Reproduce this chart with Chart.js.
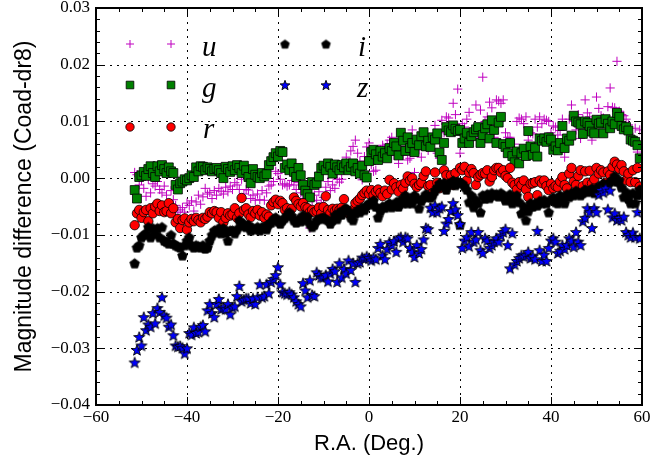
<!DOCTYPE html>
<html><head><meta charset="utf-8">
<script src="https://cdn.jsdelivr.net/npm/chart.js@4.4.1/dist/chart.umd.min.js"></script>
<style>html,body{margin:0;padding:0;background:#fff;}canvas{display:block;}</style>
</head><body>
<canvas id="c" width="671" height="459"></canvas>
<script>
// R.A. (deg) of the sample points
const raDeg = [
-51.5,-51,-50.5,-50,-49.5,-49,-48.5,-48,-47.5,-47,
-46.5,-46,-45.5,-45,-44.5,-44,-43.5,-43,-42.5,-42,
-41.5,-41,-40.5,-40,-39.5,-39,-38.5,-38,-37.5,-37,
-36.5,-36,-35.5,-35,-34.5,-34,-33.5,-33,-32.5,-32,
-31.5,-31,-30.5,-30,-29.5,-29,-28.5,-28,-27.5,-27,
-26.5,-26,-25.5,-25,-24.5,-24,-23.5,-23,-22.5,-22,
-21.5,-21,-20.5,-20,-19.5,-19,-18.5,-18,-17.5,-17,
-16.5,-16,-15.5,-15,-14.5,-14,-13.5,-13,-12.5,-12,
-11.5,-11,-10.5,-10,-9.5,-9,-8.5,-8,-7.5,-7,
-6.5,-6,-5.5,-5,-4.5,-4,-3.5,-3,-2.5,-2,
-1.5,-1,-0.5,0,0.5,1,1.5,2,2.5,3,
3.5,4,4.5,5,5.5,6,6.5,7,7.5,8,
8.5,9,9.5,10,10.5,11,11.5,12,12.5,13,
13.5,14,14.5,15,15.5,16,16.5,17,17.5,18,
18.5,19,19.5,20,20.5,21,21.5,22,22.5,23,
23.5,24,24.5,25,25.5,26,26.5,27,27.5,28,
28.5,29,29.5,30,30.5,31,31.5,32,32.5,33,
33.5,34,34.5,35,35.5,36,36.5,37,37.5,38,
38.5,39,39.5,40,40.5,41,41.5,42,42.5,43,
43.5,44,44.5,45,45.5,46,46.5,47,47.5,48,
48.5,49,49.5,50,50.5,51,51.5,52,52.5,53,
53.5,54,54.5,55,55.5,56,56.5,57,57.5,58,
58.5,59,59.5];

const uDiff = [
0.0010,0.0006,-0.0012,-0.0004,-0.0018,-0.0032,-0.0002,-0.0026,-0.0010,-0.0014,
-0.0006,-0.0020,-0.0026,-0.0014,-0.0030,-0.0044,-0.0022,-0.0038,-0.0048,-0.0060,
-0.0056,-0.0052,-0.0060,-0.0044,-0.0048,-0.0040,-0.0058,-0.0042,-0.0030,-0.0046,
-0.0033,-0.0018,-0.0028,-0.0025,-0.0036,-0.0022,-0.0030,-0.0018,-0.0023,-0.0028,
-0.0016,-0.0024,-0.0014,-0.0020,-0.0008,-0.0012,-0.0020,-0.0002,-0.0028,-0.0020,
-0.0021,-0.0036,-0.0030,-0.0039,-0.0028,-0.0038,-0.0022,-0.0039,-0.0026,-0.0014,
-0.0012,-0.0006,0.0012,0.0008,-0.0002,-0.0012,-0.0010,-0.0014,-0.0012,-0.0004,
-0.0012,-0.0020,-0.0008,-0.0026,-0.0036,-0.0024,-0.0050,-0.0088,-0.0040,-0.0030,
-0.0039,-0.0024,-0.0044,-0.0034,-0.0016,-0.0006,-0.0022,-0.0012,-0.0018,-0.0002,
-0.0007,-0.0002,0.0018,0.0037,0.0026,0.0048,0.0056,0.0067,0.0044,0.0030,
-0.0003,0.0038,0.0055,0.0062,0.0024,0.0012,0.0014,0.0032,0.0050,0.0058,
0.0052,0.0060,0.0067,0.0072,0.0040,0.0048,0.0026,0.0044,0.0040,0.0056,
0.0032,0.0035,0.0085,0.0010,0.0062,0.0050,0.0037,0.0058,0.0066,0.0049,
0.0062,0.0072,0.0093,0.0044,0.0035,0.0102,0.0080,0.0108,0.0106,0.0092,
0.0132,0.0112,0.0157,0.0044,0.0096,0.0090,0.0104,0.0116,0.0080,0.0084,
0.0129,0.0071,0.0120,0.0178,0.0100,0.0108,0.0134,0.0124,0.0072,0.0138,
0.0136,0.0132,0.0138,0.0080,0.0072,0.0072,0.0020,0.0060,0.0100,0.0106,
0.0104,0.0096,0.0108,0.0067,0.0080,0.0078,0.0104,0.0090,0.0108,0.0096,
0.0104,0.0102,0.0100,0.0080,0.0092,0.0090,0.0076,0.0084,0.0104,0.0037,
0.0060,0.0104,0.0129,0.0100,0.0085,0.0112,0.0070,0.0104,0.0138,0.0115,
0.0108,0.0067,0.0092,0.0143,0.0123,0.0110,0.0106,0.0100,0.0126,0.0159,
0.0125,0.0124,0.0206,0.0118,0.0112,0.0110,0.0104,0.0094,0.0064,0.0072,
0.0088,0.0046,0.0085];

const gDiff = [
-0.0021,-0.0036,0.0002,0.0005,0.0011,0.0004,0.0016,0.0021,0.0009,0.0002,
0.0021,0.0012,0.0023,0.0016,0.0009,0.0019,0.0012,0.0009,-0.0012,-0.0020,
-0.0009,-0.0006,-0.0002,-0.0004,0.0000,0.0005,0.0002,0.0019,0.0012,0.0021,
0.0020,0.0014,0.0019,0.0016,0.0012,0.0016,0.0018,0.0014,0.0009,0.0000,
0.0020,0.0016,0.0011,0.0021,0.0014,0.0023,0.0018,0.0009,0.0022,0.0014,
0.0002,-0.0009,0.0016,0.0006,0.0002,0.0000,0.0009,0.0003,0.0007,0.0023,
0.0030,0.0037,0.0044,0.0038,0.0048,0.0046,0.0018,0.0024,0.0014,0.0026,
0.0011,0.0002,0.0018,0.0005,-0.0012,-0.0022,-0.0028,-0.0034,-0.0007,-0.0012,
-0.0009,0.0003,0.0018,0.0022,0.0014,0.0026,0.0020,0.0008,0.0024,0.0019,
0.0014,0.0023,0.0019,0.0026,0.0014,0.0020,0.0026,0.0012,0.0018,0.0008,
0.0022,0.0005,0.0001,0.0030,0.0046,0.0050,0.0042,0.0032,0.0048,0.0038,
0.0044,0.0035,0.0053,0.0048,0.0062,0.0056,0.0040,0.0080,0.0066,0.0048,
0.0072,0.0053,0.0062,0.0046,0.0068,0.0058,0.0074,0.0081,0.0056,0.0066,
0.0055,0.0072,0.0068,0.0079,0.0045,0.0032,0.0062,0.0090,0.0084,0.0081,
0.0093,0.0087,0.0083,0.0085,0.0062,0.0070,0.0080,0.0062,0.0074,0.0081,
0.0086,0.0090,0.0062,0.0076,0.0088,0.0095,0.0070,0.0102,0.0085,0.0062,
0.0098,0.0108,0.0060,0.0055,0.0044,0.0062,0.0039,0.0028,0.0047,0.0026,
0.0044,0.0052,0.0039,0.0083,0.0056,0.0041,0.0053,0.0038,0.0070,0.0066,
0.0070,0.0064,0.0072,0.0068,0.0050,0.0056,0.0049,0.0062,0.0092,0.0053,
0.0070,0.0066,0.0075,0.0110,0.0100,0.0098,0.0095,0.0078,0.0100,0.0097,
0.0092,0.0082,0.0079,0.0103,0.0096,0.0098,0.0079,0.0104,0.0096,0.0088,
0.0100,0.0095,0.0115,0.0108,0.0092,0.0086,0.0090,0.0084,0.0068,0.0066,
0.0064,0.0058,0.0035];

const rDiff = [
-0.0083,-0.0062,-0.0056,-0.0070,-0.0060,-0.0056,-0.0076,-0.0053,-0.0062,-0.0050,
-0.0045,-0.0058,-0.0048,-0.0060,-0.0058,-0.0044,-0.0062,-0.0053,-0.0078,-0.0072,
-0.0088,-0.0074,-0.0071,-0.0091,-0.0078,-0.0072,-0.0076,-0.0070,-0.0074,-0.0078,
-0.0070,-0.0072,-0.0068,-0.0060,-0.0062,-0.0058,-0.0060,-0.0070,-0.0060,-0.0078,
-0.0070,-0.0062,-0.0066,-0.0064,-0.0053,-0.0070,-0.0062,-0.0035,-0.0056,-0.0053,
-0.0064,-0.0069,-0.0058,-0.0062,-0.0056,-0.0066,-0.0060,-0.0070,-0.0064,-0.0068,
-0.0048,-0.0042,-0.0038,-0.0046,-0.0040,-0.0044,-0.0056,-0.0053,-0.0060,-0.0054,
-0.0034,-0.0040,-0.0046,-0.0050,-0.0044,-0.0051,-0.0053,-0.0060,-0.0056,-0.0060,
-0.0058,-0.0052,-0.0062,-0.0051,-0.0032,-0.0056,-0.0062,-0.0054,-0.0058,-0.0054,
-0.0056,-0.0052,-0.0037,-0.0056,-0.0062,-0.0060,-0.0056,-0.0044,-0.0040,-0.0036,
-0.0030,-0.0026,-0.0022,-0.0028,-0.0021,-0.0030,-0.0024,-0.0020,-0.0026,-0.0032,
-0.0022,-0.0028,-0.0003,-0.0020,-0.0009,-0.0016,-0.0024,-0.0012,-0.0018,-0.0008,
0.0003,-0.0004,0.0000,-0.0010,-0.0016,-0.0012,-0.0008,0.0004,0.0012,-0.0014,
-0.0012,-0.0026,0.0010,-0.0008,-0.0018,-0.0016,0.0014,0.0005,-0.0012,0.0005,
-0.0012,0.0009,-0.0008,0.0018,0.0014,0.0020,-0.0004,0.0010,0.0016,0.0009,
-0.0012,0.0002,0.0006,0.0009,0.0008,0.0014,-0.0006,0.0002,0.0014,0.0018,
0.0018,0.0010,0.0014,0.0004,0.0000,0.0018,-0.0008,-0.0012,-0.0020,-0.0007,
-0.0012,-0.0004,-0.0020,-0.0033,-0.0010,-0.0009,-0.0007,-0.0030,-0.0004,-0.0009,
-0.0004,-0.0014,-0.0021,-0.0010,-0.0018,-0.0014,-0.0016,-0.0006,0.0002,-0.0012,
-0.0018,0.0008,0.0018,-0.0006,-0.0012,0.0004,0.0014,-0.0014,0.0012,-0.0008,
0.0013,-0.0009,-0.0002,0.0018,0.0008,0.0014,0.0010,-0.0008,0.0012,0.0006,
0.0020,0.0029,0.0024,0.0016,0.0023,0.0012,-0.0004,0.0008,-0.0007,0.0014,
-0.0007,0.0018,-0.0015];

const iDiff = [
-0.0150,-0.0122,-0.0118,-0.0104,-0.0100,-0.0097,-0.0086,-0.0104,-0.0088,-0.0098,
-0.0088,-0.0104,-0.0086,-0.0110,-0.0112,-0.0115,-0.0100,-0.0115,-0.0118,-0.0120,
-0.0122,-0.0136,-0.0118,-0.0110,-0.0104,-0.0118,-0.0122,-0.0118,-0.0120,-0.0122,
-0.0118,-0.0124,-0.0122,-0.0110,-0.0100,-0.0092,-0.0095,-0.0088,-0.0097,-0.0088,
-0.0096,-0.0110,-0.0092,-0.0092,-0.0097,-0.0090,-0.0074,-0.0084,-0.0080,-0.0086,
-0.0082,-0.0092,-0.0088,-0.0090,-0.0086,-0.0092,-0.0086,-0.0086,-0.0090,-0.0080,
-0.0078,-0.0072,-0.0069,-0.0076,-0.0080,-0.0074,-0.0070,-0.0065,-0.0060,-0.0066,
-0.0074,-0.0078,-0.0072,-0.0076,-0.0065,-0.0074,-0.0068,-0.0080,-0.0086,-0.0082,
-0.0074,-0.0072,-0.0070,-0.0069,-0.0072,-0.0074,-0.0080,-0.0074,-0.0065,-0.0072,
-0.0060,-0.0064,-0.0055,-0.0053,-0.0058,-0.0069,-0.0074,-0.0062,-0.0056,-0.0060,
-0.0052,-0.0056,-0.0048,-0.0044,-0.0046,-0.0039,-0.0050,-0.0069,-0.0058,-0.0050,
-0.0052,-0.0048,-0.0044,-0.0051,-0.0048,-0.0042,-0.0050,-0.0038,-0.0044,-0.0030,
-0.0044,-0.0038,-0.0044,-0.0030,-0.0036,-0.0053,-0.0040,-0.0034,-0.0028,-0.0032,
-0.0034,-0.0030,-0.0022,-0.0016,-0.0009,-0.0014,-0.0008,-0.0020,-0.0010,-0.0009,
-0.0004,-0.0012,-0.0006,-0.0082,-0.0009,-0.0014,-0.0020,-0.0042,-0.0030,-0.0051,
-0.0038,-0.0044,-0.0060,-0.0030,-0.0036,-0.0028,-0.0035,-0.0026,-0.0030,-0.0028,
-0.0032,-0.0026,-0.0030,-0.0039,-0.0034,-0.0028,-0.0044,-0.0036,-0.0030,-0.0042,
-0.0062,-0.0050,-0.0074,-0.0058,-0.0044,-0.0050,-0.0044,-0.0048,-0.0040,-0.0044,
-0.0038,-0.0044,-0.0060,-0.0038,-0.0034,-0.0042,-0.0044,-0.0030,-0.0036,-0.0044,
-0.0028,-0.0033,-0.0026,-0.0030,-0.0022,-0.0026,-0.0030,-0.0026,-0.0020,-0.0024,
-0.0022,-0.0018,-0.0026,-0.0021,-0.0014,-0.0020,-0.0009,-0.0015,-0.0012,-0.0006,
-0.0003,0.0004,-0.0006,-0.0003,-0.0016,-0.0033,-0.0024,-0.0036,-0.0044,-0.0026,
-0.0044,-0.0030,-0.0020];

const zDiff = [
-0.0325,-0.0303,-0.0280,-0.0295,-0.0245,-0.0268,-0.0258,-0.0262,-0.0238,-0.0256,
-0.0229,-0.0236,-0.0210,-0.0242,-0.0246,-0.0262,-0.0258,-0.0277,-0.0295,-0.0297,
-0.0296,-0.0299,-0.0309,-0.0300,-0.0273,-0.0276,-0.0263,-0.0273,-0.0271,-0.0262,
-0.0259,-0.0270,-0.0233,-0.0222,-0.0238,-0.0245,-0.0222,-0.0213,-0.0231,-0.0228,
-0.0231,-0.0222,-0.0240,-0.0228,-0.0226,-0.0208,-0.0190,-0.0217,-0.0214,-0.0212,
-0.0212,-0.0220,-0.0212,-0.0222,-0.0210,-0.0187,-0.0210,-0.0208,-0.0187,-0.0203,
-0.0183,-0.0178,-0.0171,-0.0157,-0.0187,-0.0201,-0.0203,-0.0205,-0.0201,-0.0205,
-0.0210,-0.0217,-0.0222,-0.0226,-0.0185,-0.0198,-0.0210,-0.0180,-0.0206,-0.0208,
-0.0166,-0.0171,-0.0175,-0.0175,-0.0171,-0.0182,-0.0168,-0.0160,-0.0164,-0.0183,
-0.0150,-0.0175,-0.0160,-0.0168,-0.0145,-0.0162,-0.0150,-0.0183,-0.0150,-0.0148,
-0.0140,-0.0142,-0.0138,-0.0141,-0.0145,-0.0140,-0.0143,-0.0123,-0.0116,-0.0136,
-0.0143,-0.0125,-0.0113,-0.0118,-0.0111,-0.0130,-0.0106,-0.0104,-0.0112,-0.0104,
-0.0106,-0.0123,-0.0130,-0.0139,-0.0118,-0.0132,-0.0125,-0.0108,-0.0088,-0.0090,
-0.0052,-0.0060,-0.0048,-0.0060,-0.0053,-0.0050,-0.0093,-0.0080,-0.0072,-0.0058,
-0.0044,-0.0055,-0.0065,-0.0081,-0.0123,-0.0110,-0.0104,-0.0120,-0.0095,-0.0112,
-0.0108,-0.0095,-0.0127,-0.0132,-0.0106,-0.0110,-0.0123,-0.0118,-0.0112,-0.0106,
-0.0112,-0.0101,-0.0095,-0.0090,-0.0118,-0.0159,-0.0097,-0.0152,-0.0146,-0.0141,
-0.0136,-0.0138,-0.0136,-0.0130,-0.0141,-0.0138,-0.0143,-0.0093,-0.0127,-0.0146,
-0.0135,-0.0146,-0.0123,-0.0110,-0.0106,-0.0112,-0.0132,-0.0128,-0.0118,-0.0125,
-0.0118,-0.0106,-0.0110,-0.0121,-0.0095,-0.0112,-0.0118,-0.0076,-0.0070,-0.0053,
-0.0060,-0.0088,-0.0053,-0.0060,-0.0029,-0.0021,-0.0025,-0.0018,-0.0055,-0.0022,
-0.0069,-0.0062,-0.0074,-0.0070,-0.0074,-0.0068,-0.0095,-0.0100,-0.0104,-0.0096,
-0.0104,-0.0060,-0.0106];

const bandLabels = ['u', 'g', 'r', 'i', 'z'];
const xTicks = [-60, -40, -20, 0, 20, 40, 60];
const yTicks = [-0.04, -0.03, -0.02, -0.01, 0, 0.01, 0.02, 0.03];
const xTitle = 'R.A. (Deg.)';
const yTitle = 'Magnitude difference (Coad-dr8)';

function makePentagon(r, fill) {
  const s = 13, c = document.createElement('canvas');
  c.width = s; c.height = s;
  const g = c.getContext('2d');
  g.beginPath();
  for (let k = 0; k < 5; k++) {
    const a = -Math.PI / 2 + k * 2 * Math.PI / 5;
    const px = s / 2 + r * Math.cos(a), py = s / 2 + 0.5 + r * Math.sin(a);
    if (k) g.lineTo(px, py); else g.moveTo(px, py);
  }
  g.closePath(); g.fillStyle = fill; g.fill();
  g.lineWidth = 0.8; g.strokeStyle = '#000'; g.stroke();
  return c;
}
function makeStar(ro, ri, fill) {
  const s = 14, c = document.createElement('canvas');
  c.width = s; c.height = s;
  const g = c.getContext('2d');
  g.beginPath();
  for (let k = 0; k < 10; k++) {
    const a = -Math.PI / 2 + k * Math.PI / 5;
    const r = k % 2 ? ri : ro;
    const px = s / 2 + r * Math.cos(a), py = s / 2 + 0.5 + r * Math.sin(a);
    if (k) g.lineTo(px, py); else g.moveTo(px, py);
  }
  g.closePath(); g.fillStyle = fill; g.fill();
  g.lineWidth = 0.9; g.strokeStyle = '#000'; g.stroke();
  return c;
}
const pentImg = makePentagon(5.1, '#000000');
const starImg = makeStar(5.8, 2.4, '#0000ff');

const styles = [
  {style: 'cross', radius: 4.6, fill: '#bf00bf', stroke: '#bf00bf', bw: 1, order: 5},
  {style: 'rect', radius: 6.3, fill: '#008000', stroke: '#000000', bw: 0.8, order: 4},
  {style: 'circle', radius: 4.7, fill: '#ff0000', stroke: '#000000', bw: 0.8, order: 3},
  {style: pentImg, radius: 5, fill: '#000000', stroke: '#000000', bw: 0.8, order: 2},
  {style: starImg, radius: 5, fill: '#0000ff', stroke: '#000000', bw: 0.8, order: 1}
];
const legendStyles = [
  {style: 'cross', radius: 4, fill: '#bf00bf', stroke: '#bf00bf', bw: 1},
  {style: 'rect', radius: 5.4, fill: '#008000', stroke: '#000000', bw: 0.8},
  {style: 'circle', radius: 4.2, fill: '#ff0000', stroke: '#000000', bw: 0.8},
  {style: makePentagon(4.6, '#000000')},
  {style: makeStar(5.2, 2.2, '#0000ff')}
];
const series = [uDiff, gDiff, rDiff, iDiff, zDiff];

const datasets = series.map((vals, s) => ({
  label: bandLabels[s],
  data: raDeg.map((x, k) => ({x: x, y: vals[k]})),
  pointStyle: styles[s].style,
  pointRadius: styles[s].radius,
  pointBackgroundColor: styles[s].fill,
  pointBorderColor: styles[s].stroke,
  pointBorderWidth: styles[s].bw,
  backgroundColor: styles[s].fill,
  borderColor: styles[s].stroke,
  order: styles[s].order,
  clip: 0
}));

function drawMarker(ctx, st, x, y) {
  ctx.save();
  if (st.fill) { ctx.fillStyle = st.fill; ctx.strokeStyle = st.stroke; ctx.lineWidth = st.bw; }
  if (st.style === 'cross') {
    ctx.beginPath();
    ctx.moveTo(x - st.radius, y); ctx.lineTo(x + st.radius, y);
    ctx.moveTo(x, y - st.radius); ctx.lineTo(x, y + st.radius);
    ctx.stroke();
  } else if (st.style === 'rect') {
    const h = st.radius * Math.SQRT1_2;
    ctx.beginPath(); ctx.rect(x - h, y - h, 2 * h, 2 * h); ctx.fill(); ctx.stroke();
  } else if (st.style === 'circle') {
    ctx.beginPath(); ctx.arc(x, y, st.radius, 0, 2 * Math.PI); ctx.fill(); ctx.stroke();
  } else {
    ctx.drawImage(st.style, x - st.style.width / 2, y - st.style.height / 2);
  }
  ctx.restore();
}

const serif = "'Liberation Serif', 'DejaVu Serif', serif";
const sans = "'Liberation Sans', Arial, sans-serif";
const fmt = v => String(v).replace('-', '\u2212');

const decor = {
  id: 'decor',
  beforeDatasetsDraw(chart) {
    const {ctx, chartArea: a, scales: {x, y}} = chart;
    ctx.save();
    ctx.strokeStyle = '#000'; ctx.lineWidth = 1; ctx.setLineDash([2, 5]);
    xTicks.forEach(v => {
      const p = Math.round(x.getPixelForValue(v)) + 0.5;
      if (p < a.left + 2 || p > a.right - 2) return;
      ctx.beginPath(); ctx.moveTo(p, a.top); ctx.lineTo(p, a.bottom); ctx.stroke();
    });
    yTicks.forEach(v => {
      const p = Math.round(y.getPixelForValue(v)) + 0.5;
      if (p < a.top + 2 || p > a.bottom - 2) return;
      ctx.beginPath(); ctx.moveTo(a.left, p); ctx.lineTo(a.right, p); ctx.stroke();
    });
    ctx.restore();
  },
  afterDraw(chart) {
    const {ctx, chartArea: a, scales: {x, y}} = chart;
    ctx.save();
    ctx.strokeStyle = '#000'; ctx.lineWidth = 1;
    for (let k = -12; k <= 12; k++) {
      const p = Math.round(x.getPixelForValue(k * 5)) + 0.5;
      const len = (k % 4 === 0) ? 8 : 4;
      ctx.beginPath();
      ctx.moveTo(p, a.bottom); ctx.lineTo(p, a.bottom - len);
      ctx.moveTo(p, a.top); ctx.lineTo(p, a.top + len);
      ctx.stroke();
    }
    for (let k = -20; k <= 15; k++) {
      const p = Math.round(y.getPixelForValue(k * 0.002)) + 0.5;
      const len = (k % 5 === 0) ? 8 : 4;
      ctx.beginPath();
      ctx.moveTo(a.left, p); ctx.lineTo(a.left + len, p);
      ctx.moveTo(a.right, p); ctx.lineTo(a.right - len, p);
      ctx.stroke();
    }
    ctx.lineWidth = 2;
    ctx.strokeRect(a.left, a.top, a.right - a.left, a.bottom - a.top);
    // axis titles
    ctx.fillStyle = '#000';
    ctx.font = "22px " + sans;
    ctx.textAlign = 'center'; ctx.textBaseline = 'middle';
    ctx.fillText(xTitle, (a.left + a.right) / 2, 444);
    ctx.save();
    ctx.translate(25, (a.top + a.bottom) / 2);
    ctx.rotate(-Math.PI / 2);
    ctx.font = "23px " + sans;
    ctx.fillText(yTitle, 0, 0);
    ctx.restore();
    // legend
    const rowsY = [44, 85, 127, 44, 85];
    const colX = [130, 130, 130, 285, 285];
    const textX = [202, 202, 203, 358, 357];
    const baseY = [56, 97, 138, 56, 97];
    ctx.font = "italic 29px " + serif;
    ctx.textBaseline = 'alphabetic'; ctx.textAlign = 'left';
    bandLabels.forEach((lab, s) => {
      drawMarker(ctx, legendStyles[s], colX[s], rowsY[s]);
      drawMarker(ctx, legendStyles[s], colX[s] + 41, rowsY[s]);
      ctx.fillStyle = '#000';
      ctx.fillText(lab, textX[s], baseY[s]);
    });
    ctx.restore();
  }
};

new Chart(document.getElementById('c'), {
  type: 'scatter',
  data: {datasets},
  plugins: [decor],
  options: {
    responsive: false,
    devicePixelRatio: 1,
    animation: false,
    events: [],
    layout: {padding: {top: 8, right: 29, left: 0, bottom: 0}},
    plugins: {legend: {display: false}, tooltip: {enabled: false}},
    scales: {
      x: {
        type: 'linear', min: -60, max: 60,
        afterFit: s => { s.height = 54; s.paddingLeft = 0; s.paddingRight = 0; },
        afterBuildTicks: s => { s.ticks = xTicks.map(v => ({value: v})); },
        grid: {display: false, drawTicks: false},
        border: {display: false},
        ticks: {color: '#000', padding: 2, maxRotation: 0, font: {family: serif, size: 17}, callback: v => fmt(v)},
        title: {display: false}
      },
      y: {
        type: 'linear', min: -0.04, max: 0.03,
        afterFit: s => { s.width = 96; s.paddingTop = 0; s.paddingBottom = 0; },
        afterBuildTicks: s => { s.ticks = yTicks.map(v => ({value: v})); },
        grid: {display: false, drawTicks: false},
        border: {display: false},
        ticks: {color: '#000', padding: 6, font: {family: serif, size: 17}, callback: v => fmt(v.toFixed(2))},
        title: {display: false}
      }
    }
  }
});
</script>
</body></html>
